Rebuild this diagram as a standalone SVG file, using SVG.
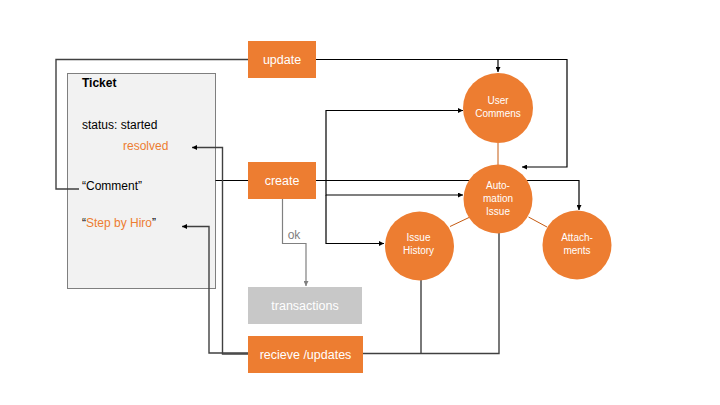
<svg xmlns="http://www.w3.org/2000/svg" width="720" height="405" viewBox="0 0 720 405">
<style>
  text{font-family:"Liberation Sans",Arial,sans-serif}
  .box{fill:#ed7d31}
  .grey{fill:#c8c8c8}
  .bl{font-size:12.5px;fill:#fff;text-anchor:middle}
  .cl{font-size:10px;fill:#fff;text-anchor:middle}
  .t{font-size:12px;fill:#000}
  .o{fill:#ed7d31}
  .ln{fill:none;stroke:#000;stroke-width:1.2}
  .dg{fill:none;stroke:#404040;stroke-width:1.4}
  .gl{fill:none;stroke:#808080;stroke-width:1.2}
  .ol{fill:none;stroke:#c55a11;stroke-width:1}
</style>
<defs>
  <marker id="ah" viewBox="0 0 6 6" refX="6" refY="3" markerWidth="5" markerHeight="5" orient="auto" markerUnits="userSpaceOnUse">
    <path d="M0,0L6,3L0,6z" fill="#000"/>
  </marker>
  <marker id="ag" viewBox="0 0 6 6" refX="6" refY="3" markerWidth="5" markerHeight="5" orient="auto" markerUnits="userSpaceOnUse">
    <path d="M0,0L6,3L0,6z" fill="#808080"/>
  </marker>
</defs>
<rect width="720" height="405" fill="#fff"/>

<g id="ticket">
  <rect x="67.5" y="73.5" width="148" height="215" fill="#f2f2f2" stroke="#7f7f7f" stroke-width="1"/>
  <text x="82" y="87" class="t" font-weight="bold">Ticket</text>
  <text x="82" y="129" class="t">status: started</text>
  <text x="123" y="150" class="t o">resolved</text>
  <text x="82" y="190" class="t">“Comment”</text>
  <text x="82" y="227" class="t">“<tspan class="o">Step by Hiro</tspan>”</text>
</g>

<g id="connectors">
  <path class="dg" d="M248,59.5H56V189H79"/>
  <path class="ln" d="M316,59.5H567V167H522" marker-end="url(#ah)"/>
  <path class="ln" d="M498,59.5V72" marker-end="url(#ah)"/>
  <path class="ln" d="M215.5,180.5H248"/>
  <path class="ln" d="M316,180.5H579V210" marker-end="url(#ah)"/>
  <path class="ln" d="M326,180.5V110.5H463" marker-end="url(#ah)"/>
  <path class="ln" d="M326,180.5V195H463" marker-end="url(#ah)"/>
  <path class="ln" d="M326,195V243.5H384" marker-end="url(#ah)"/>
  <path class="gl" d="M282.5,198V243.5H306V286" marker-end="url(#ag)"/>
  <text x="294" y="239" style="font-size:12px;fill:#808080;text-anchor:middle">ok</text>
  <path class="dg" d="M248,353H209V226.5H182" marker-end="url(#ah)"/>
  <path class="dg" d="M248,354H222.5V147.5H192" marker-end="url(#ah)"/>
  <path class="dg" d="M363,353.5H499V212"/>
  <path class="dg" d="M421,353.5V280"/>
  <path class="ol" d="M498,143V166"/>
  <path class="ol" d="M450,226.5L469,217.5"/>
  <path class="ol" d="M528.5,217L547,227"/>
</g>

<g id="update">
  <rect class="box" x="248" y="41" width="68" height="37"/>
  <text class="bl" x="282" y="64">update</text>
</g>
<g id="create">
  <rect class="box" x="248" y="162" width="68" height="37"/>
  <text class="bl" x="282" y="185">create</text>
</g>
<g id="transactions">
  <rect class="grey" x="248" y="287" width="114" height="37"/>
  <text class="bl" x="305" y="310">transactions</text>
</g>
<g id="recieve">
  <rect class="box" x="248" y="336" width="115" height="37"/>
  <text class="bl" x="305.5" y="359">recieve /updates</text>
</g>

<g id="user-commens">
  <circle class="box" cx="498" cy="108" r="35"/>
  <text class="cl" x="498" y="104">User</text>
  <text class="cl" x="498" y="117">Commens</text>
</g>
<g id="automation-issue">
  <circle class="box" cx="498" cy="199" r="34.5"/>
  <text class="cl" x="498" y="189">Auto-</text>
  <text class="cl" x="498" y="202">mation</text>
  <text class="cl" x="498" y="215">Issue</text>
</g>
<g id="issue-history">
  <circle class="box" cx="419.5" cy="246" r="34.5"/>
  <text class="cl" x="418.5" y="241">Issue</text>
  <text class="cl" x="418.5" y="254">History</text>
</g>
<g id="attachments">
  <circle class="box" cx="577" cy="245" r="34.5"/>
  <text class="cl" x="577" y="241">Attach-</text>
  <text class="cl" x="577" y="254">ments</text>
</g>
</svg>
